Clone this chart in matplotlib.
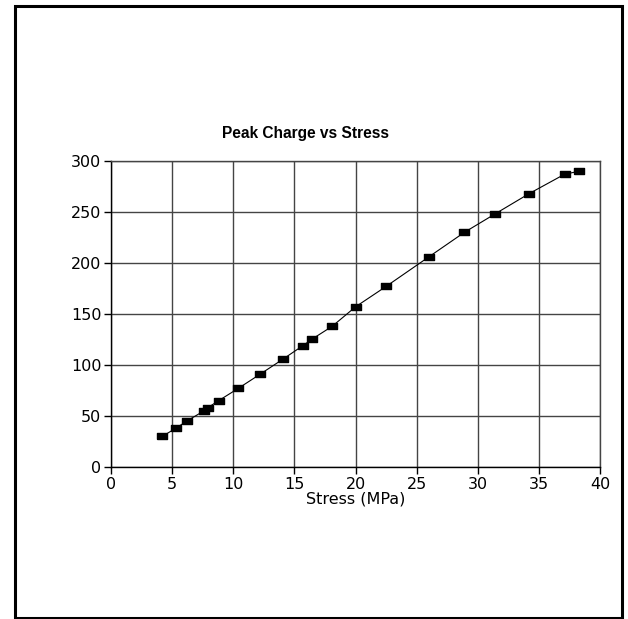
import matplotlib.pyplot as plt
from matplotlib.patches import Rectangle

# Peak charge measured at each applied stress
stress = [4.2, 5.3, 6.2, 7.6, 7.9, 8.8, 10.4, 12.2, 14.1, 15.7, 16.4,
          18.1, 20.0, 22.5, 26.0, 28.9, 31.4, 34.2, 37.1, 38.3]
charge = [30, 38, 45, 55, 58, 65, 77, 91, 106, 119, 125,
          138, 157, 177, 206, 230, 248, 268, 287, 290]

x_ticks = [0, 5, 10, 15, 20, 25, 30, 35, 40]
y_ticks = [0, 50, 100, 150, 200, 250, 300]

fig = plt.figure(figsize=(6.28, 6.19), dpi=100)
ax = fig.add_axes([0.1768, 0.2456, 0.7786, 0.4943])

# wide flat square marker
box = [(-1.4, -1), (1.4, -1), (1.4, 1), (-1.4, 1), (-1.4, -1)]
ax.plot(stress, charge, color='black', linewidth=0.8,
        marker=box, markersize=7, markerfacecolor='black',
        markeredgecolor='black')

ax.set_xlim(0, 40)
ax.set_ylim(0, 300)
ax.set_xticks(x_ticks)
ax.set_yticks(y_ticks)
ax.grid(True, color='#444444', linewidth=1.0)
ax.set_axisbelow(True)

for side in ['top', 'right']:
    ax.spines[side].set_color('#444444')
    ax.spines[side].set_linewidth(1.0)
for side in ['left', 'bottom']:
    ax.spines[side].set_linewidth(1.0)

ax.tick_params(direction='out', length=5, width=1.0, labelsize=11.5,
               pad=2, colors='black')
ax.set_xlabel('Stress (MPa)', fontsize=11.5, labelpad=0)

fig.text(306 / 628, 1 - 133 / 619, 'Peak Charge vs Stress',
         ha='center', va='center', fontsize=11.2, fontweight='bold',
         family='Liberation Sans')

# outer frame
frame = Rectangle((15 / 628, 1 - 618 / 619), 607 / 628, 612 / 619,
                  transform=fig.transFigure, fill=False,
                  edgecolor='black', linewidth=2.2)
fig.patches.append(frame)

fig.savefig('out.png', dpi=100)
